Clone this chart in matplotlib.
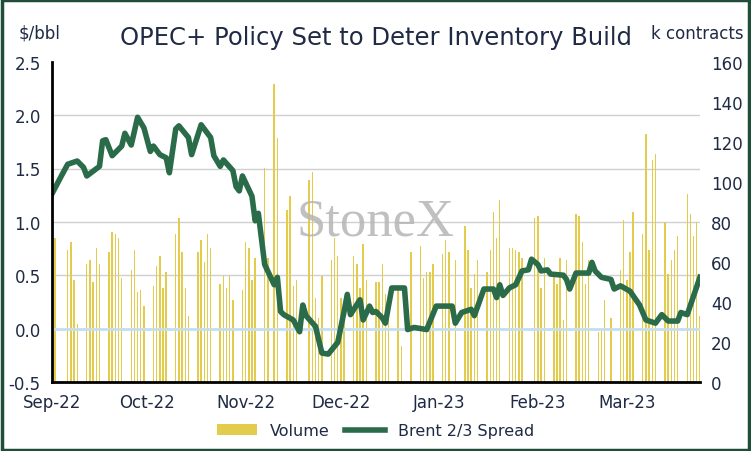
import matplotlib.pyplot as plt
import matplotlib.dates as mdates
import pandas as pd

# Brent 2/3 spread ($/bbl), read at turning points
spread_dates = ["2022-09-01", "2022-09-04", "2022-09-06", "2022-09-09", "2022-09-11", "2022-09-12",
                "2022-09-16", "2022-09-17", "2022-09-18", "2022-09-20", "2022-09-23", "2022-09-24",
                "2022-09-26", "2022-09-28", "2022-09-30", "2022-10-02", "2022-10-03", "2022-10-05",
                "2022-10-07", "2022-10-08", "2022-10-10", "2022-10-11", "2022-10-14", "2022-10-15",
                "2022-10-18", "2022-10-21", "2022-10-22", "2022-10-24", "2022-10-25", "2022-10-28",
                "2022-10-29", "2022-10-30", "2022-10-31", "2022-11-03", "2022-11-04", "2022-11-05",
                "2022-11-07", "2022-11-10", "2022-11-11", "2022-11-12", "2022-11-13", "2022-11-16",
                "2022-11-18", "2022-11-19", "2022-11-20", "2022-11-23", "2022-11-25", "2022-11-27",
                "2022-11-30", "2022-12-02", "2022-12-03", "2022-12-04", "2022-12-07", "2022-12-08",
                "2022-12-10", "2022-12-11", "2022-12-12", "2022-12-14", "2022-12-15", "2022-12-17",
                "2022-12-21", "2022-12-22", "2022-12-24", "2022-12-28", "2022-12-31", "2023-01-05",
                "2023-01-06", "2023-01-08", "2023-01-11", "2023-01-12", "2023-01-15", "2023-01-18",
                "2023-01-19", "2023-01-20", "2023-01-21", "2023-01-23", "2023-01-25", "2023-01-27",
                "2023-01-29", "2023-01-30", "2023-02-01", "2023-02-02", "2023-02-04", "2023-02-05",
                "2023-02-09", "2023-02-10", "2023-02-11", "2023-02-13", "2023-02-17", "2023-02-18",
                "2023-02-19", "2023-02-21", "2023-02-24", "2023-02-25", "2023-02-27", "2023-03-02",
                "2023-03-05", "2023-03-07", "2023-03-10", "2023-03-12", "2023-03-14", "2023-03-17",
                "2023-03-18", "2023-03-20", "2023-03-24"]
spread = [1.26, 1.43, 1.54, 1.57, 1.51, 1.43,
          1.52, 1.76, 1.77, 1.62, 1.71, 1.83,
          1.72, 1.98, 1.88, 1.66, 1.71, 1.63,
          1.60, 1.46, 1.87, 1.90, 1.79, 1.63,
          1.91, 1.79, 1.62, 1.52, 1.58, 1.48,
          1.33, 1.29, 1.43, 1.24, 1.01, 1.08,
          0.60, 0.41, 0.48, 0.16, 0.13, 0.08,
          -0.03, 0.22, 0.12, 0.02, -0.23, -0.24,
          -0.13, 0.16, 0.32, 0.13, 0.27, 0.08,
          0.21, 0.15, 0.16, 0.10, 0.05, 0.38,
          0.38, -0.01, 0.01, -0.01, 0.21, 0.21,
          0.05, 0.15, 0.18, 0.12, 0.37, 0.37,
          0.29, 0.41, 0.31, 0.38, 0.41, 0.54,
          0.55, 0.65, 0.60, 0.54, 0.55, 0.51,
          0.50, 0.46, 0.37, 0.52, 0.52, 0.62,
          0.54, 0.48, 0.46, 0.37, 0.40, 0.35,
          0.22, 0.08, 0.05, 0.13, 0.07, 0.07,
          0.15, 0.13, 0.48]

# Volume (k contracts), one per business day from 1 Sep 2022
volume = [48, 72, 0, 66, 70, 51, 29, 59, 61, 50, 67, 59, 65, 75, 74, 72,
          52, 56, 66, 45, 46, 38, 48, 58, 63, 47, 55, 74, 82, 65, 47,
          33, 65, 71, 60, 74, 67, 49, 53, 47, 53, 41, 46, 70, 67, 51,
          62, 107, 62, 0, 149, 122, 86, 93, 48, 51, 0, 101, 105, 42, 32,
          53, 61, 72, 63, 42, 40, 63, 59, 47, 69, 51, 50, 50, 59, 44,
          35, 48, 18, 0, 0, 65, 68, 52, 55, 55, 59, 64, 71, 65,
          0, 61, 78, 66, 47, 54, 61, 55, 66, 85, 72, 91, 67, 67, 66,
          65, 62, 0, 82, 83, 47, 62, 55, 49, 62, 31, 61, 84, 83, 70,
          49, 61, 25, 26, 41, 0, 32, 56, 81, 51, 65, 85, 74, 124, 66, 111,
          114, 80, 54, 61, 66, 73, 94, 84, 73, 80, 33]

navy = "#1F2A44"
green = "#2A6B4A"
gold = "#E3CC4C"

vol_dates = pd.bdate_range("2022-09-01", periods=len(volume))
sp_dates = pd.to_datetime(spread_dates)

fig = plt.figure(figsize=(7.51, 4.52), dpi=100)
ax = fig.add_axes([0.069, 0.153, 0.863, 0.708])
ax2 = ax.twinx()
ax.set_zorder(ax2.get_zorder() + 1)
ax.patch.set_visible(False)

ax2.bar(vol_dates, volume, width=0.45, color=gold, label="Volume")
ax2.set_ylim(0, 160)
ax2.set_yticks(range(0, 161, 20))

ax.plot(sp_dates, spread, color=green, lw=4, solid_joinstyle="round", label="Brent 2/3 Spread")
ax.axhline(0, color="#C5DDF0", lw=2, zorder=0)
ax.set_ylim(-0.5, 2.5)
ax.set_yticks([-0.5, 0, 0.5, 1.0, 1.5, 2.0, 2.5])
ax.yaxis.set_major_formatter(plt.FuncFormatter(lambda v, p: f"{v:.1f}"))
ax.set_xlim(pd.Timestamp("2022-09-01"), pd.Timestamp("2023-03-24"))
ax.xaxis.set_major_locator(mdates.MonthLocator())
ax.xaxis.set_major_formatter(mdates.DateFormatter("%b-%y"))
for y in [0.5, 1.0, 1.5, 2.0]:
    ax2.axhline((y + 0.5) / 3 * 160, color="#D0D0D0", lw=1, zorder=0)

for a in (ax, ax2):
    a.tick_params(length=0, labelsize=12, colors=navy, pad=8)
    for s in a.spines.values():
        s.set_visible(False)
ax.spines["left"].set_visible(True)
ax.spines["bottom"].set_visible(True)
ax.spines["left"].set_linewidth(2)
ax.spines["bottom"].set_linewidth(2)

ax.text(0.5, 0.5, "StoneX", transform=ax.transAxes, ha="center", va="center",
        fontsize=38, family="Liberation Serif", color="#B5B5B5", alpha=0.85, zorder=0)

fig.text(0.50, 0.915, "OPEC+ Policy Set to Deter Inventory Build", ha="center", va="center",
         fontsize=17.5, color=navy)
fig.text(0.025, 0.925, "$/bbl", ha="left", va="center", fontsize=12, color=navy)
fig.text(0.99, 0.925, "k contracts", ha="right", va="center", fontsize=12, color=navy)

h1, l1 = ax2.get_legend_handles_labels()
h2, l2 = ax.get_legend_handles_labels()
fig.legend(h1 + h2, l1 + l2, loc="center", bbox_to_anchor=(0.5, 0.045), ncol=2,
           frameon=False, fontsize=11.5, labelcolor=navy, handlelength=2.5, columnspacing=1.0)

fig.patches.append(plt.Rectangle((0.002, 0.003), 0.996, 0.994, transform=fig.transFigure,
                                 fill=False, edgecolor="#1E4D3A", lw=2.5))
fig.savefig("out.png", dpi=100)
